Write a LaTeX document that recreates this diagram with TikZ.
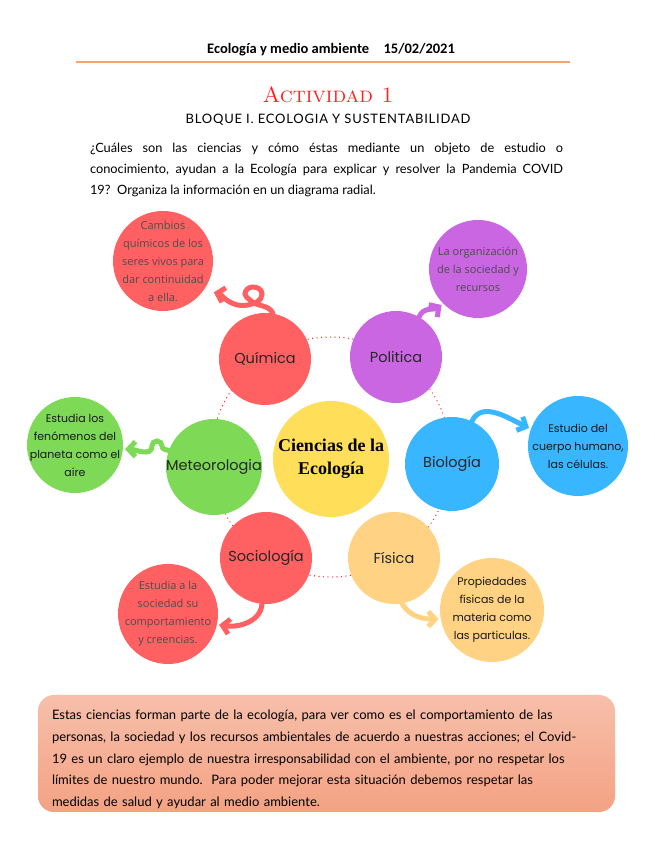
\documentclass[tikz,border=0pt]{standalone}
\usepackage{fontspec}
\usetikzlibrary{arrows.meta}
\newfontfamily\headfont{Carlito}
\newfontfamily\handfont{Lato}
\newfontfamily\roundfont{Poppins}
\newfontfamily\lightfont{Open Sans}
\newfontfamily\hubfont{Liberation Serif}
\definecolor{rulebrown}{HTML}{F4A46C}
\definecolor{titlered}{HTML}{FF2020}
\definecolor{corered}{HTML}{FF6163}
\definecolor{corepurple}{HTML}{CB66E3}
\definecolor{coregreen}{HTML}{7ED957}
\definecolor{coreblue}{HTML}{38B6FF}
\definecolor{coreyellow}{HTML}{FFDE59}
\definecolor{coreorange}{HTML}{FFD383}
\definecolor{boxtop}{HTML}{F7BFAB}
\definecolor{boxbottom}{HTML}{F4A283}

\begin{document}
\begin{tikzpicture}[x=1pt,y=1pt,
  sat/.style={circle,minimum size=92pt,inner sep=-30pt,font=\roundfont\fontsize{14.5}{18}\selectfont,text=black!85},
  info/.style={circle,minimum size=100pt,inner sep=-30pt,align=center,font=\roundfont\fontsize{11}{18}\selectfont,text=black!90},
  thin/.style={info,font=\lightfont\fontsize{11}{18}\selectfont,text=black!70},
  flow/.style={line width=5pt,line cap=round,shorten >=2pt,-{Straight Barb[length=7pt,width=15pt]}}]
 \useasboundingbox[fill=white] (0,0) rectangle (655,848);
 \node[font=\headfont\bfseries\fontsize{14.5}{16}\selectfont] (head) at (331,798) {Ecología y medio ambiente\quad 15/02/2021};
 \draw[rulebrown,line width=1.3pt] (76,786) -- (570,786);
 \node[titlered,font=\fontsize{22}{24}\selectfont\scshape] (title) at (328,753) {Actividad 1};
 \node[font=\handfont\fontsize{13}{14}\selectfont\addfontfeature{LetterSpace=6}] (block) at (328,728) {BLOQUE I. ECOLOGIA Y SUSTENTABILIDAD};
 \node[text width=473pt,align=justify,inner sep=0pt,font=\handfont\fontsize{12.8}{21}\selectfont] (ask) at (326.5,678)
  {¿Cuáles son las ciencias y cómo éstas mediante un objeto de estudio o\linebreak
   conocimiento, ayudan a la Ecología para explicar y resolver la Pandemia COVID\linebreak
   19?\ \ Organiza la información en un diagrama radial.};

 \draw[red!85,line width=1.4pt,line cap=round,dash pattern=on 0pt off 4.5pt] (331,391) circle (120);

 \node[circle,fill=coreyellow,minimum size=116pt,inner sep=-30pt,align=center,
  font=\hubfont\bfseries\fontsize{18}{23}\selectfont] (hub) at (331,389) {Ciencias de la\\Ecología};
 \node[sat,fill=corered] (quim) at (265,489) {Química};
 \node[sat,fill=corepurple] (pol) at (396,491) {Politica};
 \node[sat,fill=coregreen,minimum size=96pt] (meteo) at (214,381) {Meteorologia};
 \node[sat,fill=coreblue,minimum size=94pt] (bio) at (452,384) {Biología};
 \node[sat,fill=corered] (socio) at (266,290) {Sociología};
 \node[sat,fill=coreorange] (fis) at (394,290) {Física};

 \node[thin,fill=corered] (cambios) at (163,587) {Cambios\\químicos de los\\seres vivos para\\dar continuidad\\a ella.};
 \node[thin,fill=corepurple,minimum size=98pt] (orga) at (478,579) {La organización\\de la sociedad y\\recursos};
 \node[info,fill=coregreen,minimum size=96pt] (planeta) at (75,403) {Estudia los\\fenómenos del\\planeta como el\\aire};
 \node[info,fill=coreblue] (cuerpo) at (578,402) {Estudio del\\cuerpo humano,\\las células.};
 \node[thin,fill=corered] (creencias) at (168,234) {Estudia a la\\sociedad su\\comportamiento\\y creencias.};
 \node[info,fill=coreorange,minimum size=104pt] (materia) at (492,238) {Propiedades\\físicas de la\\materia como\\las particulas.};

 \draw[flow,corered,shorten >=10pt] (quim.80) to[out=115,in=-45] (250,548) to[out=135,in=-90] (245,554)
  to[out=90,in=180] (253,561) to[out=0,in=90] (262,554) to[out=-90,in=10] (248,543) to[out=190,in=-15] (cambios.-35);
 \draw[flow,corepurple] (pol.60) to[out=70,in=215] (orga.225);
 \draw[flow,coregreen] (meteo.160) to[out=170,in=-90] (162,402) to[out=90,in=0] (157,407)
  to[out=180,in=90] (152,402) to[out=-90,in=0] (planeta.-5);
 \draw[flow,coreblue] (bio.65) to[out=65,in=155] (cuerpo.160);
 \draw[flow,corered] (socio.-95) to[out=-95,in=-10] (creencias.-12);
 \draw[flow,coreorange] (fis.-80) to[out=-60,in=180] (materia.190);

 \node[rounded corners=16pt,top color=boxtop,bottom color=boxbottom,minimum width=577pt,minimum height=117pt] (summary) at (326.5,94.5) {};
 \node[anchor=west,text width=560pt,align=left,inner sep=0pt,font=\handfont\fontsize{13}{21.7}\selectfont] (summarytext)
  at ([xshift=14pt,yshift=-6pt]summary.west)
  {Estas ciencias forman parte de la ecología, para ver como es el comportamiento de las\\
   personas, la sociedad y los recursos ambientales de acuerdo a nuestras acciones; el Covid-\\
   19 es un claro ejemplo de nuestra irresponsabilidad con el ambiente, por no respetar los\\
   límites de nuestro mundo.\ \ Para poder mejorar esta situación debemos respetar las\\
   medidas de salud y ayudar al medio ambiente.};
\end{tikzpicture}
\end{document}
